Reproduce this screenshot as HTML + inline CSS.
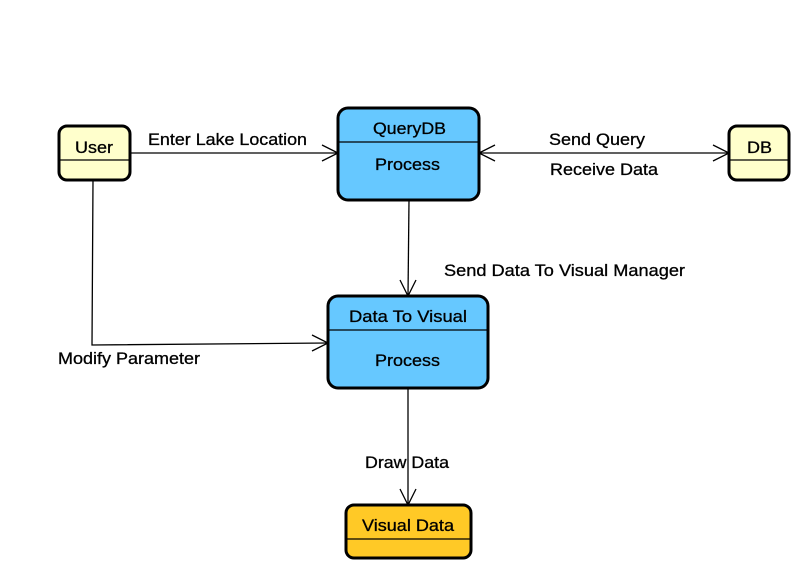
<!DOCTYPE html>
<html><head><style>body{margin:0;background:#fff}</style></head><body>
<svg width="799" height="571" xmlns="http://www.w3.org/2000/svg" font-family="Liberation Sans, sans-serif" font-size="17">
<rect width="799" height="571" fill="#fff"/>
<g stroke="#000" stroke-width="1.3" fill="none">
<line x1="130" y1="153" x2="338" y2="153"/><polyline points="322,145 338,153 322,161"/>
<line x1="479" y1="153" x2="729" y2="153"/><polyline points="495,145 479,153 495,161"/><polyline points="713,145 729,153 713,161"/>
<line x1="409" y1="200" x2="408" y2="296"/><polyline points="400,280 408,296 416,280"/>
<polyline points="93,180 92,345 328,343"/><polyline points="312,335 328,343 312,351"/>
<line x1="408" y1="388" x2="408" y2="505"/><polyline points="400,489 408,505 416,489"/>
</g>
<g stroke="#000" stroke-width="3">
<rect x="59" y="126" width="71" height="54" rx="8" fill="#ffffcc"/>
<rect x="729" y="126" width="60" height="54" rx="8" fill="#ffffcc"/>
<rect x="338" y="108" width="141" height="92" rx="10" fill="#66c8ff"/>
<rect x="328" y="296" width="160" height="92" rx="10" fill="#66c8ff"/>
<rect x="346" y="505" width="125" height="53" rx="8" fill="#ffc926"/>
</g>
<g stroke="#000" stroke-width="1.2">
<line x1="60" y1="160" x2="129" y2="160"/><line x1="730" y1="160" x2="788" y2="160"/>
<line x1="339" y1="142" x2="478" y2="142"/><line x1="329" y1="330" x2="487" y2="330"/>
<line x1="347" y1="539" x2="470" y2="539"/>
</g>
<g fill="#000" stroke="#000" stroke-width="0.3" lengthAdjust="spacingAndGlyphs">
<text x="75" y="153" textLength="38" lengthAdjust="spacingAndGlyphs">User</text>
<text x="747" y="153" textLength="25" lengthAdjust="spacingAndGlyphs">DB</text>
<text x="373" y="134" textLength="73" lengthAdjust="spacingAndGlyphs">QueryDB</text>
<text x="375" y="170" textLength="65" lengthAdjust="spacingAndGlyphs">Process</text>
<text x="349" y="322" textLength="118" lengthAdjust="spacingAndGlyphs">Data To Visual</text>
<text x="375" y="366" textLength="65" lengthAdjust="spacingAndGlyphs">Process</text>
<text x="362" y="531" textLength="92" lengthAdjust="spacingAndGlyphs">Visual Data</text>
<text x="148" y="145" textLength="159" lengthAdjust="spacingAndGlyphs">Enter Lake Location</text>
<text x="549" y="145" textLength="96" lengthAdjust="spacingAndGlyphs">Send Query</text>
<text x="550" y="175" textLength="108" lengthAdjust="spacingAndGlyphs">Receive Data</text>
<text x="444" y="276" textLength="241" lengthAdjust="spacingAndGlyphs">Send Data To Visual Manager</text>
<text x="58" y="364" textLength="142" lengthAdjust="spacingAndGlyphs">Modify Parameter</text>
<text x="365" y="468" textLength="84" lengthAdjust="spacingAndGlyphs">Draw Data</text>
</g>
</svg>
</body></html>
